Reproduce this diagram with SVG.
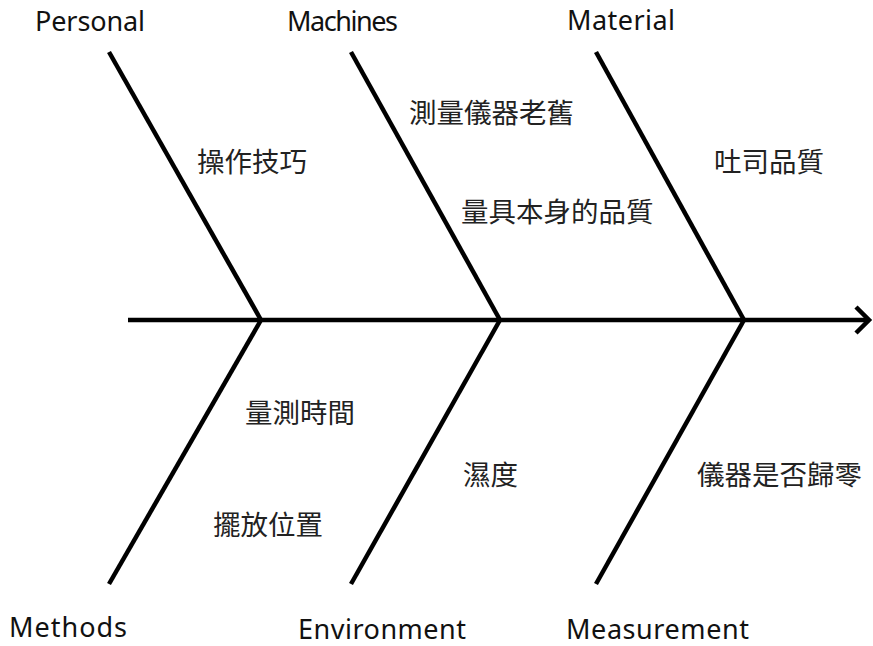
<svg xmlns="http://www.w3.org/2000/svg" width="873" height="646" viewBox="0 0 873 646">
<style>
.bone{stroke:#000;stroke-width:4.5;fill:none;stroke-linecap:butt}
.cat{font-family:"Noto Sans","Open Sans",sans-serif;font-size:27px;fill:#111}
.cause{font-family:"Noto Sans CJK TC","Noto Sans CJK SC",sans-serif;font-size:27.5px;fill:#222}
</style>
<rect width="873" height="646" fill="#fff"/>
<g id="connectors">
<line class="bone" x1="128" y1="320" x2="866" y2="320"/>
<polyline class="bone" points="856,307 869,320 856,333"/>
<line class="bone" x1="109" y1="52" x2="261" y2="320"/>
<line class="bone" x1="351" y1="52" x2="500" y2="320"/>
<line class="bone" x1="596" y1="52" x2="744" y2="320"/>
<line class="bone" x1="261" y1="320" x2="109" y2="584"/>
<line class="bone" x1="500" y1="320" x2="351" y2="584"/>
<line class="bone" x1="744" y1="320" x2="596" y2="584"/>
</g>
<g id="cat-personal"><text class="cat" x="35" y="31" textLength="110">Personal</text></g>
<g id="cat-machines"><text class="cat" x="287" y="31" textLength="111">Machines</text></g>
<g id="cat-material"><text class="cat" x="567" y="30" textLength="108">Material</text></g>
<g id="cat-methods"><text class="cat" x="9" y="637" textLength="118">Methods</text></g>
<g id="cat-environment"><text class="cat" x="298" y="639" textLength="168">Environment</text></g>
<g id="cat-measurement"><text class="cat" x="566" y="639" textLength="183">Measurement</text></g>
<g id="cause-1"><text class="cause" x="197" y="172">操作技巧</text></g>
<g id="cause-2"><text class="cause" x="409" y="123">測量儀器老舊</text></g>
<g id="cause-3"><text class="cause" x="461" y="222">量具本身的品質</text></g>
<g id="cause-4"><text class="cause" x="714" y="172">吐司品質</text></g>
<g id="cause-5"><text class="cause" x="245" y="423">量測時間</text></g>
<g id="cause-6"><text class="cause" x="213" y="535">擺放位置</text></g>
<g id="cause-7"><text class="cause" x="463" y="485">濕度</text></g>
<g id="cause-8"><text class="cause" x="697" y="485">儀器是否歸零</text></g>
</svg>
